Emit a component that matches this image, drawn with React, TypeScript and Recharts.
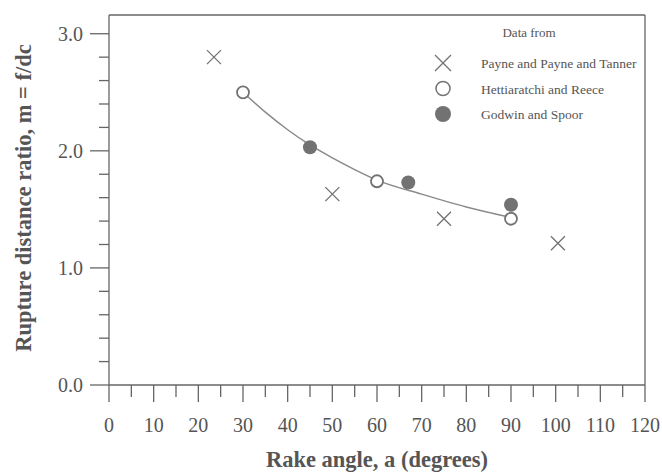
import React from 'react';
import {
  ComposedChart,
  Scatter,
  Line,
  XAxis,
  YAxis,
  ReferenceLine,
  Legend,
  Label,
} from 'recharts';

// Payne and Payne and Tanner
const payneAngle = [23.5, 50, 75, 100.5];
const payneRatio = [2.8, 1.63, 1.42, 1.21];
// Hettiaratchi and Reece
const hettAngle = [30, 60, 90];
const hettRatio = [2.5, 1.74, 1.42];
// Godwin and Spoor
const godwinAngle = [45, 67, 90];
const godwinRatio = [2.03, 1.73, 1.54];
// fitted curve through the Hettiaratchi / Godwin points
const fitAngle = [30, 35, 40, 45, 50, 55, 60, 70, 80, 90];
const fitRatio = [2.5, 2.33, 2.18, 2.05, 1.94, 1.84, 1.75, 1.63, 1.52, 1.43];

const xTicks = [0, 5, 10, 15, 20, 25, 30, 35, 40, 45, 50, 55, 60, 65, 70, 75, 80, 85, 90, 95, 100, 105, 110, 115, 120];
const yTicks = [0, 0.2, 0.4, 0.6, 0.8, 1, 1.2, 1.4, 1.6, 1.8, 2, 2.2, 2.4, 2.6, 2.8, 3];

const legendNames = ['Payne and Payne and Tanner', 'Hettiaratchi and Reece', 'Godwin and Spoor'];

const AXIS = '#666';
const TEXT = '#555';
const MARK = '#727272';
const FONT = '"Liberation Serif", "DejaVu Serif", serif';

const toPoints = (xs: number[], ys: number[]) => xs.map((angle, i) => ({ angle, ratio: ys[i] }));

const payneData = toPoints(payneAngle, payneRatio);
const hettData = toPoints(hettAngle, hettRatio);
const godwinData = toPoints(godwinAngle, godwinRatio);
const fitData = toPoints(fitAngle, fitRatio);

const crossPath = (cx: number, cy: number, r: number) =>
  `M${cx - r},${cy - r}L${cx + r},${cy + r}M${cx + r},${cy - r}L${cx - r},${cy + r}`;

const CrossMark = ({ cx, cy }: any) => (
  <path d={crossPath(cx, cy, 7)} stroke={MARK} strokeWidth={1.3} fill="none" />
);

const OpenMark = ({ cx, cy }: any) => (
  <circle cx={cx} cy={cy} r={6} fill="#fff" stroke={MARK} strokeWidth={1.8} />
);

const FilledMark = ({ cx, cy }: any) => (
  <circle cx={cx} cy={cy} r={7} fill={MARK} stroke="none" />
);

const XTick = ({ x, y, payload }: any) => {
  const major = payload.value % 10 === 0;
  return (
    <g>
      <line x1={x} x2={x} y1={y} y2={y + (major ? 17 : 12)} stroke={AXIS} strokeWidth={1.3} />
      {major && (
        <text x={x} y={y + 47} textAnchor="middle" fill={TEXT} fontSize={20} fontFamily={FONT}>
          {payload.value}
        </text>
      )}
    </g>
  );
};

const YTick = ({ x, y, payload }: any) => {
  const major = Number.isInteger(payload.value);
  return (
    <g>
      <line x1={x - (major ? 19 : 10)} x2={x} y1={y} y2={y} stroke={AXIS} strokeWidth={1.3} />
      {major && (
        <text x={x - 26} y={y + 7} textAnchor="end" fill={TEXT} fontSize={20} fontFamily={FONT}>
          {payload.value.toFixed(1)}
        </text>
      )}
    </g>
  );
};

const renderLegend = () => (
  <svg width={230} height={110}>
    <text x={109} y={22} textAnchor="middle" fill={TEXT} fontSize={13} fontFamily={FONT}>
      Data from
    </text>
    {legendNames.map((name, i) => {
      const cy = 48 + i * 25.5;
      return (
        <g key={name}>
          {i === 0 && <path d={crossPath(23, cy, 8)} stroke={MARK} strokeWidth={1.3} fill="none" />}
          {i === 1 && <circle cx={23} cy={cy} r={7} fill="#fff" stroke={MARK} strokeWidth={1.5} />}
          {i === 2 && <circle cx={23} cy={cy} r={8} fill={MARK} />}
          <text x={61} y={cy + 5} fill={TEXT} fontSize={13.5} fontFamily={FONT}>
            {name}
          </text>
        </g>
      );
    })}
  </svg>
);

export default function App() {
  return (
    <div style={{ position: 'absolute', left: 0, top: 0, background: '#fff' }}>
      <ComposedChart width={662} height={475} margin={{ top: 15, right: 17, bottom: 0, left: 40 }}>
        <XAxis
          type="number"
          dataKey="angle"
          domain={[0, 120]}
          ticks={xTicks}
          interval={0}
          allowDataOverflow
          height={90}
          tickSize={0}
          tickMargin={0}
          tick={<XTick />}
          axisLine={{ stroke: AXIS, strokeWidth: 1.3 }}
        >
          <Label
            content={() => (
              <text x={377} y={467} textAnchor="middle" fill={TEXT} fontSize={22.5} fontWeight="bold" fontFamily={FONT}>
                Rake angle, a (degrees)
              </text>
            )}
          />
        </XAxis>
        <YAxis
          type="number"
          domain={[0, 3.16]}
          ticks={yTicks}
          interval={0}
          allowDataOverflow
          width={69}
          tickSize={0}
          tickMargin={0}
          tick={<YTick />}
          axisLine={{ stroke: AXIS, strokeWidth: 1.3 }}
        >
          <Label
            content={() => (
              <text
                x={23}
                y={198}
                transform="rotate(-90, 23, 198)"
                textAnchor="middle"
                dominantBaseline="central"
                fill={TEXT}
                fontSize={22.5}
                fontWeight="bold"
                fontFamily={FONT}
              >
                Rupture distance ratio, m = f/dc
              </text>
            )}
          />
        </YAxis>
        <ReferenceLine y={3.16} stroke={AXIS} strokeWidth={1.3} />
        <ReferenceLine x={120} stroke={AXIS} strokeWidth={1.3} />
        <Line
          data={fitData}
          dataKey="ratio"
          type="monotone"
          stroke="#8a8a8a"
          strokeWidth={1.5}
          dot={false}
          activeDot={false}
          legendType="none"
          isAnimationActive={false}
        />
        <Scatter data={payneData} dataKey="ratio" shape={<CrossMark />} isAnimationActive={false} />
        <Scatter data={hettData} dataKey="ratio" shape={<OpenMark />} isAnimationActive={false} />
        <Scatter data={godwinData} dataKey="ratio" shape={<FilledMark />} isAnimationActive={false} />
        <Legend
          layout="horizontal"
          verticalAlign="middle"
          content={renderLegend}
          wrapperStyle={{ left: 420, top: 15, width: 230, height: 110 }}
        />
      </ComposedChart>
    </div>
  );
}
